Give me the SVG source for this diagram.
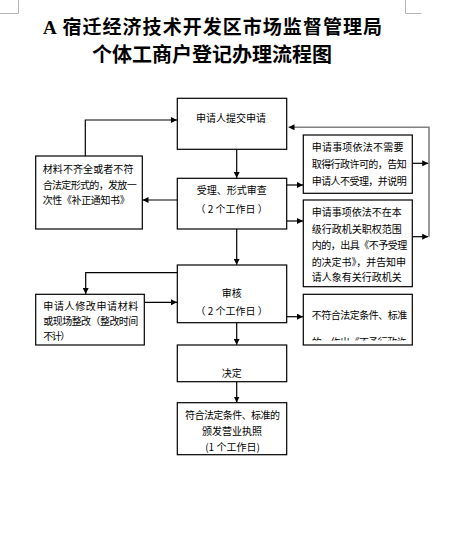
<svg xmlns="http://www.w3.org/2000/svg" width="456" height="558" viewBox="0 0 456 558">
<style>
.bg{fill:#fff}
.box{fill:#fff;stroke:#000;stroke-width:1.2}
.ln{fill:none;stroke:#000;stroke-width:1.2}
.gl{fill:none;stroke:#808080;stroke-width:1.6}
.cm{fill:none;stroke:#b4b4b4;stroke-width:1}
.t{font-family:"Noto Sans CJK SC","Liberation Sans",sans-serif;font-size:10px;fill:#000}
.c{text-anchor:middle}
.title{font-family:"Liberation Serif","Noto Sans CJK SC",serif;font-weight:bold;fill:#000}
</style>
<defs>
<marker id="ah" viewBox="0 0 8 8" refX="8" refY="4" markerWidth="6" markerHeight="6" markerUnits="userSpaceOnUse" orient="auto">
<path d="M0,0 L8,4 L0,8 Z" fill="#000"/>
</marker>
<marker id="ahg" viewBox="0 0 8 8" refX="8" refY="4" markerWidth="6" markerHeight="6" markerUnits="userSpaceOnUse" orient="auto">
<path d="M0,0 L8,4 L0,8 Z" fill="#000"/>
</marker>
<clipPath id="clip3"><rect x="304" y="295" width="108" height="45.5"/></clipPath>
</defs>
<rect class="bg" x="0" y="0" width="456" height="558"/>
<g id="cornermarks">
<path class="cm" d="M18.5,0 V13.5 H0"/>
<path class="cm" d="M405.5,0 V13.5 H421.5"/>
</g>
<g id="title">
<text class="title" x="43" y="34" font-size="19" textLength="339" lengthAdjust="spacing">A 宿迁经济技术开发区市场监督管理局</text>
<text class="title" x="92" y="61.5" font-size="20" textLength="240" lengthAdjust="spacing">个体工商户登记办理流程图</text>
</g>
<g id="connectors">
<path class="ln" d="M236.7,149.3 V178" marker-end="url(#ah)"/>
<path class="ln" d="M177.3,200 H142.5" marker-end="url(#ah)"/>
<path class="ln" d="M85.3,156 V120 H177" marker-end="url(#ah)"/>
<path class="ln" d="M286.7,185 H303" marker-end="url(#ah)"/>
<path class="ln" d="M286.7,221 H303" marker-end="url(#ah)"/>
<path class="gl" d="M429,236.7 V127.3 H288.5" marker-end="url(#ahg)"/>
<path class="ln" d="M412.3,163.3 H428.2" marker-end="url(#ah)"/>
<path class="ln" d="M412.3,236.7 H428.2" marker-end="url(#ah)"/>
<path class="ln" d="M236.7,229 V264.8" marker-end="url(#ah)"/>
<path class="ln" d="M177.3,272.7 H85.7 V294" marker-end="url(#ah)"/>
<path class="ln" d="M144.3,302.3 H177" marker-end="url(#ah)"/>
<path class="ln" d="M286.7,316.7 H303" marker-end="url(#ah)"/>
<path class="ln" d="M236.7,322.7 V344.8" marker-end="url(#ah)"/>
<path class="ln" d="M236.7,381.7 V402.5" marker-end="url(#ah)"/>
</g>
<g id="n-submit">
<rect class="box" x="177.3" y="98.3" width="109.4" height="51"/>
<text class="t c" x="231" y="121.5" textLength="70" lengthAdjust="spacing">申请人提交申请</text>
</g>
<g id="n-accept">
<rect class="box" x="177.3" y="178.3" width="109.4" height="50.7"/>
<text class="t c" x="231.7" y="194">受理、形式审查</text>
<text class="t c" x="231.7" y="213" xml:space="preserve">（ 2 个工作日 ）</text>
</g>
<g id="n-correct">
<rect class="box" x="35.7" y="156" width="106.6" height="73"/>
<text class="t" x="42.7" y="173" textLength="90.7" lengthAdjust="spacing">材料不齐全或者不符</text>
<text class="t" x="42.7" y="189" textLength="94" lengthAdjust="spacing">合法定形式的，发放一</text>
<text class="t" x="42.7" y="204" textLength="87" lengthAdjust="spacing">次性《补正通知书》</text>
</g>
<g id="n-noneed">
<rect class="box" x="303.3" y="135" width="109" height="58.3"/>
<text class="t" x="311.7" y="151" textLength="91.7" lengthAdjust="spacing">申请事项依法不需要</text>
<text class="t" x="311.7" y="168" textLength="95" lengthAdjust="spacing">取得行政许可的，告知</text>
<text class="t" x="311.7" y="184.5" textLength="95" lengthAdjust="spacing">申请人不受理，并说明</text>
</g>
<g id="n-outscope">
<rect class="box" x="303.3" y="200" width="109" height="86.7"/>
<text class="t" x="311.7" y="215.5" textLength="90" lengthAdjust="spacing">申请事项依法不在本</text>
<text class="t" x="311.7" y="233" textLength="90" lengthAdjust="spacing">级行政机关职权范围</text>
<text class="t" x="311.7" y="249" textLength="95.6" lengthAdjust="spacing">内的，出具《不予受理</text>
<text class="t" x="311.7" y="265.5" textLength="94.3" lengthAdjust="spacing">的决定书》，并告知申</text>
<text class="t" x="311.7" y="281" textLength="90" lengthAdjust="spacing">请人象有关行政机关</text>
</g>
<g id="n-review">
<rect class="box" x="177.3" y="265" width="109.4" height="57.7"/>
<text class="t c" x="231.7" y="297.3">审核</text>
<text class="t c" x="231.7" y="315" xml:space="preserve">（ 2 个工作日 ）</text>
</g>
<g id="n-modify">
<rect class="box" x="35.7" y="294.3" width="108.6" height="50.7"/>
<text class="t" x="43.3" y="310" textLength="95" lengthAdjust="spacing">申请人修改申请材料</text>
<text class="t" x="43.3" y="325" textLength="95" lengthAdjust="spacing">或现场整改（整改时间</text>
<text class="t" x="43.3" y="340" textLength="27" lengthAdjust="spacing">不计）</text>
</g>
<g id="n-reject">
<rect class="box" x="303.3" y="294.3" width="109" height="50.7"/>
<g clip-path="url(#clip3)">
<text class="t" x="311.7" y="319" textLength="95.6" lengthAdjust="spacing">不符合法定条件、标准</text>
<text class="t" x="311.7" y="346" textLength="95" lengthAdjust="spacing">的，作出《不予行政许</text>
</g>
</g>
<g id="n-decide">
<rect class="box" x="177.3" y="345" width="109.4" height="36.7"/>
<text class="t c" x="231.7" y="377">决定</text>
</g>
<g id="n-license">
<rect class="box" x="177.3" y="402.7" width="109.4" height="52"/>
<text class="t c" x="232.5" y="419" textLength="95" lengthAdjust="spacing">符合法定条件、标准的</text>
<text class="t c" x="232" y="434.7">颁发营业执照</text>
<text class="t c" x="232.5" y="451" xml:space="preserve">(1 个工作日)</text>
</g>
</svg>
